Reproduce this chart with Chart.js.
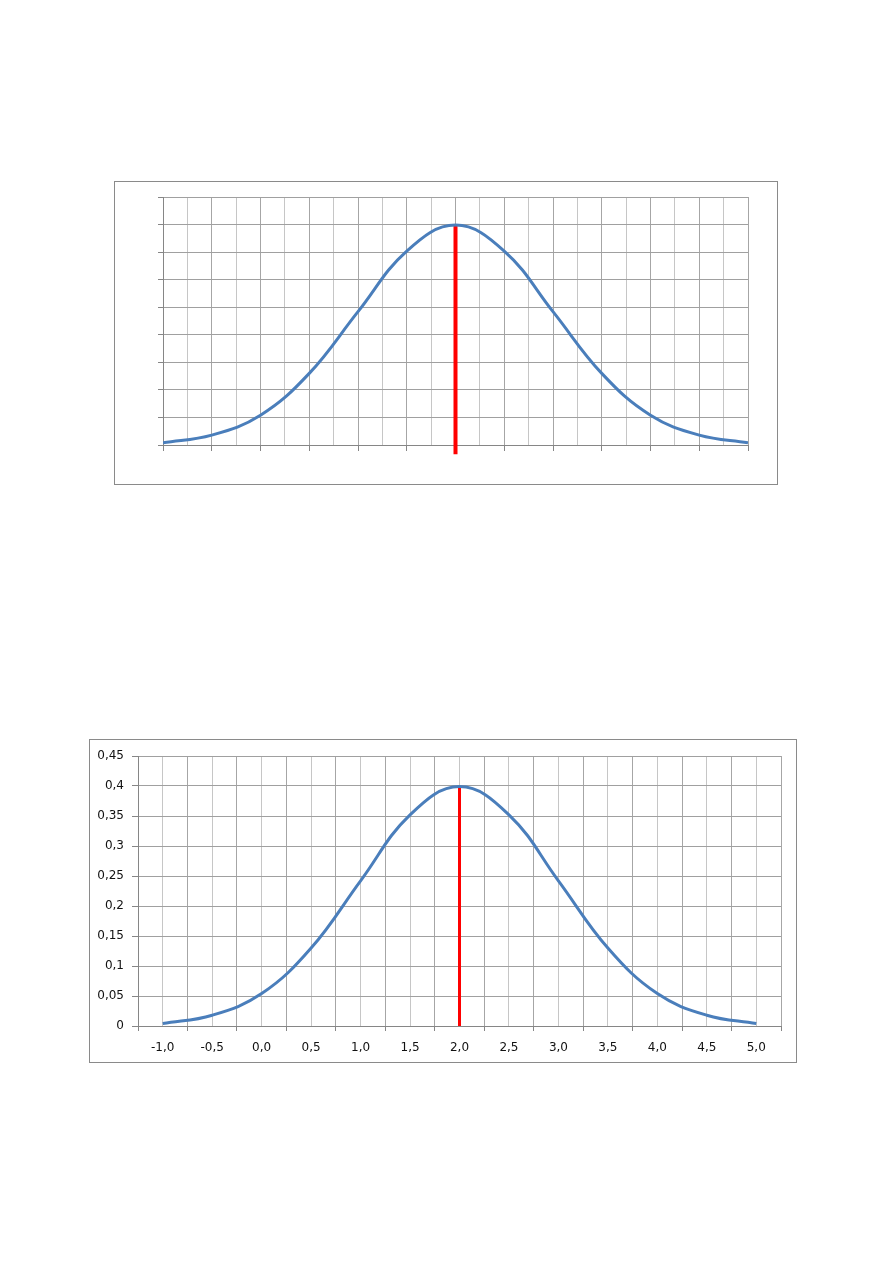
<!DOCTYPE html>
<html>
<head>
<meta charset="utf-8">
<script src="https://cdn.jsdelivr.net/npm/chart.js@4.4.0/dist/chart.umd.min.js"></script>
<style>
    html, body { margin: 0; padding: 0; background: #ffffff; }
    body { width: 893px; height: 1263px; position: relative; overflow: hidden; }
    .frame { position: absolute; border: 1px solid #8a8a8a; background: #ffffff; }
    #topFrame { left: 114px; top: 181px; width: 662px; height: 302px; }
    #bottomFrame { left: 89px; top: 739px; width: 706px; height: 322px; }
    canvas { display: block; }
</style>
</head>
<body>
<div class="frame" id="topFrame"><canvas id="topChart" width="662" height="302"></canvas></div>
<div class="frame" id="bottomFrame"><canvas id="bottomChart" width="706" height="322"></canvas></div>
<script>
// values (density curve, mean marked in red)
const xValues = [-1.0, -0.5, 0.0, 0.5, 1.0, 1.5, 2.0, 2.5, 3.0, 3.5, 4.0, 4.5, 5.0];
const yValues = [0.004, 0.018, 0.054, 0.13, 0.242, 0.352, 0.399, 0.352, 0.242, 0.13, 0.054, 0.018, 0.004];
const meanX = 2.0;
const peakY = 0.399;
const redTailY = -0.017;

const yTickValues = [0, 0.05, 0.1, 0.15, 0.2, 0.25, 0.3, 0.35, 0.4, 0.45];
const yTickLabels = ["0", "0,05", "0,1", "0,15", "0,2", "0,25", "0,3", "0,35", "0,4", "0,45"];
const xTickLabels = ["-1,0", "-0,5", "0,0", "0,5", "1,0", "1,5", "2,0", "2,5", "3,0", "3,5", "4,0", "4,5", "5,0"];

const curveColor = "#4a7ebb";
const meanColor = "#ff0000";
const majorGrid = "#a6a6a6";
const minorGrid = "#c6c6c6";
const hGrid = "#a0a0a0";
const axisColor = "#868686";
const labelFont = { family: "'DejaVu Sans', sans-serif", size: 12 };
const labelColor = "#111111";

const step = xValues[1] - xValues[0];

// top chart: data on tick marks, extra light line between them
const topGrid = [];
xValues.forEach((v, i) => {
    topGrid.push(v);
    if (i < xValues.length - 1) topGrid.push(v + step / 2);
});

// bottom chart: data between tick marks
const bottomGrid = [];
xValues.forEach((v) => {
    bottomGrid.push(v - step / 2);
    bottomGrid.push(v);
});
bottomGrid.push(xValues[xValues.length - 1] + step / 2);

const points = xValues.map((x, i) => ({ x: x, y: yValues[i] }));

function setTicks(values) {
    return (scale) => { scale.ticks = values.map((v) => ({ value: v })); };
}

function datasets(tailY, redWidth) {
    return [{
        data: points,
        borderColor: curveColor,
        borderWidth: 3,
        pointRadius: 0,
        tension: 0.4,
        fill: false
    }, {
        data: [{ x: meanX, y: peakY }, { x: meanX, y: tailY }],
        borderColor: meanColor,
        borderWidth: redWidth,
        pointRadius: 0,
        clip: false
    }];
}

const common = {
    responsive: false,
    animation: false,
    events: [],
    plugins: { legend: { display: false }, tooltip: { enabled: false } }
};

new Chart(document.getElementById("topChart"), {
    type: "line",
    data: { datasets: datasets(redTailY, 4) },
    options: {
        ...common,
        layout: { padding: { top: 15, right: 29, left: 0, bottom: 0 } },
        scales: {
            x: {
                type: "linear",
                min: xValues[0],
                max: xValues[xValues.length - 1],
                afterBuildTicks: setTicks(topGrid),
                afterFit: (s) => { s.height = 39; },
                ticks: { display: false, autoSkip: false },
                border: { color: axisColor },
                grid: {
                    color: (c) => (c.index % 2 === 0 ? majorGrid : minorGrid),
                    tickColor: (c) => (c.index % 2 === 0 ? axisColor : "rgba(0,0,0,0)"),
                    tickLength: 6
                }
            },
            y: {
                min: 0,
                max: yTickValues[yTickValues.length - 1],
                afterBuildTicks: setTicks(yTickValues),
                afterFit: (s) => { s.width = 48; },
                ticks: { display: false },
                border: { color: axisColor },
                grid: { color: hGrid, tickColor: axisColor, tickLength: 5 }
            }
        }
    }
});

new Chart(document.getElementById("bottomChart"), {
    type: "line",
    data: { datasets: datasets(0, 3) },
    options: {
        ...common,
        layout: { padding: { top: 16, right: 15, left: 0, bottom: 0 } },
        scales: {
            x: {
                type: "linear",
                min: bottomGrid[0],
                max: bottomGrid[bottomGrid.length - 1],
                afterBuildTicks: setTicks(bottomGrid),
                afterFit: (s) => { s.height = 36; },
                ticks: {
                    autoSkip: false,
                    maxRotation: 0,
                    minRotation: 0,
                    padding: 10,
                    font: labelFont,
                    color: labelColor,
                    callback: (v, i) => (i % 2 === 1 ? xTickLabels[(i - 1) / 2] : "")
                },
                border: { color: axisColor },
                grid: {
                    color: (c) => (c.index % 2 === 1 ? minorGrid : majorGrid),
                    tickColor: (c) => (c.index % 2 === 1 ? "rgba(0,0,0,0)" : axisColor),
                    tickLength: 5
                }
            },
            y: {
                min: 0,
                max: yTickValues[yTickValues.length - 1],
                afterBuildTicks: setTicks(yTickValues),
                afterFit: (s) => { s.width = 48; },
                ticks: {
                    padding: 8,
                    font: labelFont,
                    color: labelColor,
                    callback: (v, i) => yTickLabels[i]
                },
                border: { color: axisColor },
                grid: { color: hGrid, tickColor: axisColor, tickLength: 6 }
            }
        }
    }
});
</script>
</body>
</html>
